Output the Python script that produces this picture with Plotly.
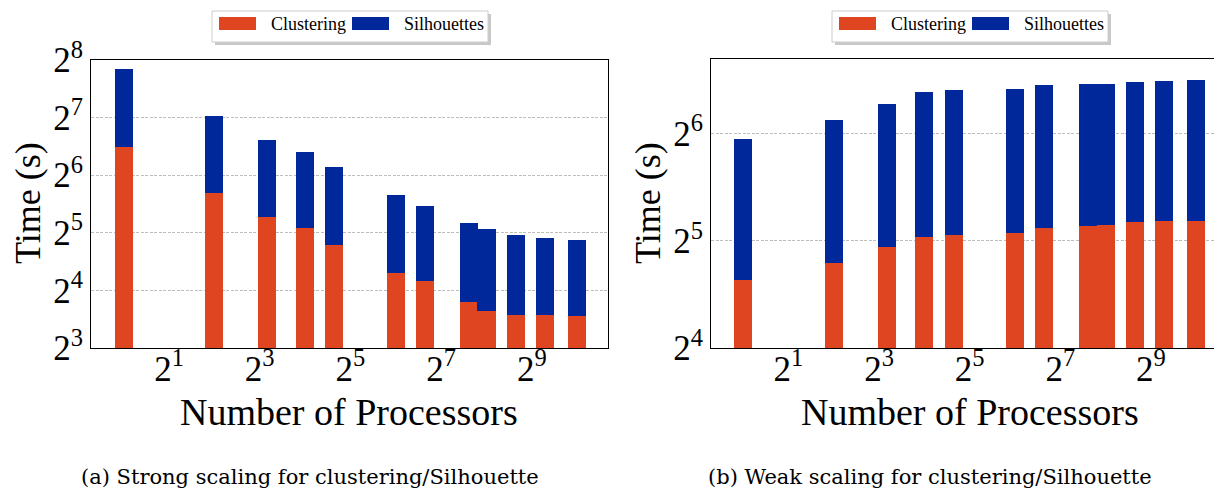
import numpy as np
import plotly.graph_objects as go

# processor counts (perfect squares), bars placed at log2(p)
processors = [1, 4, 9, 16, 25, 64, 100, 196, 256, 400, 625, 1024]

# (a) strong scaling, seconds
strong_clustering = [90, 51.6, 38.6, 33.8, 27.6, 19.7, 17.9, 13.9, 12.5, 11.9, 11.9, 11.8]
strong_silhouettes = [139, 78.4, 59.1, 50.6, 42.9, 30.9, 26.4, 22.1, 21.1, 19.2, 18.1, 17.5]

# (b) weak scaling, seconds
weak_clustering = [24.9, 27.7, 30.8, 32.8, 33.3, 33.7, 34.8, 35.3, 35.5, 36.2, 36.4, 36.4]
weak_silhouettes = [37.0, 42.4, 46.9, 51.2, 51.8, 52.0, 53.1, 53.2, 53.0, 53.4, 53.8, 54.4]

series_names = ["Clustering", "Silhouettes"]
series_colors = ["#E04521", "#00289A"]
x_tick_exps = [1, 3, 5, 7, 9]
strong_y_exps = [3, 4, 5, 6, 7, 8]
weak_y_exps = [4, 5, 6]
captions = ["(a) Strong scaling for clustering/Silhouette",
            "(b) Weak scaling for clustering/Silhouette"]

W, H = 1222, 491
PAGE = 8  # body margin of the html page
SERIF = "Liberation Serif"


def px(x):
    return (x - PAGE) / W


def py(y):
    return 1 - (y - PAGE) / H


def pow2_labels(exps):
    return [f"2<sup>{e}</sup>" for e in exps]


fig = go.Figure()
x_log = np.log2(processors)

panels = [(strong_clustering, strong_silhouettes, "x", "y"),
          (weak_clustering, weak_silhouettes, "x2", "y2")]
for clu, sil, xa, ya in panels:
    for name, vals, color in zip(series_names, [clu, sil], series_colors):
        fig.add_trace(go.Bar(x=x_log, y=vals, name=name, width=0.4,
                             marker=dict(color=color, line=dict(width=0)),
                             xaxis=xa, yaxis=ya, showlegend=False))

tickfont = dict(family=SERIF, size=35, color="black")
common_x = dict(showgrid=False, zeroline=False, ticks="", showline=True, linecolor="black",
                linewidth=1, mirror=True, tickvals=x_tick_exps, ticktext=pow2_labels(x_tick_exps),
                tickfont=tickfont, automargin=False, ticklabelstandoff=-10)
common_y = dict(type="log", showgrid=True, gridcolor="#bdbdbd", griddash="3px,1.5px", gridwidth=1,
                zeroline=False, ticks="", showline=True, linecolor="black", linewidth=1,
                tickfont=tickfont, automargin=False)

fig.update_layout(
    width=W, height=H,
    margin=dict(l=0, r=0, t=0, b=0),
    plot_bgcolor="white", paper_bgcolor="white",
    barmode="stack", bargap=0,
    xaxis=dict(common_x, domain=[px(91), px(608)], range=[-0.72, 10.68], anchor="y"),
    yaxis=dict(common_y, domain=[py(348), py(60)], anchor="x", mirror=True,
               range=[np.log10(8), np.log10(256)],
               tickvals=[2 ** e for e in strong_y_exps], ticktext=pow2_labels(strong_y_exps)),
    xaxis2=dict(common_x, domain=[px(711), px(1228)], range=[-0.71, 10.70], anchor="y2"),
    yaxis2=dict(common_y, domain=[py(348), py(59)], anchor="x2",
                range=[np.log10(16), np.log10(2 ** 6.7)],
                tickvals=[2 ** e for e in weak_y_exps], ticktext=pow2_labels(weak_y_exps)),
)

# axis titles and captions
title_font = dict(family=SERIF, size=38, color="black")
for cx, ycx in [(349, 28), (970, 648)]:
    fig.add_annotation(x=px(cx), y=py(412), xref="paper", yref="paper", text="Number of Processors",
                       showarrow=False, font=title_font, xanchor="center", yanchor="middle")
    fig.add_annotation(x=px(ycx), y=py(203), xref="paper", yref="paper", text="Time (s)",
                       showarrow=False, font=dict(title_font, size=36), textangle=-90,
                       xanchor="center", yanchor="middle")
for cx, cap in zip([310, 930], captions):
    fig.add_annotation(x=px(cx), y=py(477), xref="paper", yref="paper", text=cap, showarrow=False,
                       font=dict(family="DejaVu Serif", size=21, color="black"),
                       xanchor="center", yanchor="middle")

# legend boxes drawn above each panel
for x0 in [212, 832]:
    fig.add_shape(type="rect", xref="paper", yref="paper", x0=px(x0 + 3), x1=px(x0 + 279),
                  y0=py(45), y1=py(14), fillcolor="#c8c8c8", line=dict(width=0), layer="above")
    fig.add_shape(type="rect", xref="paper", yref="paper", x0=px(x0), x1=px(x0 + 276),
                  y0=py(42), y1=py(11), fillcolor="white", line=dict(color="#cccccc", width=1),
                  layer="above")
    for (sx, tx), name, color in zip([(7, 57), (140, 190)], series_names, series_colors):
        fig.add_shape(type="rect", xref="paper", yref="paper", x0=px(x0 + sx), x1=px(x0 + sx + 37),
                      y0=py(30), y1=py(17), fillcolor=color, line=dict(width=0), layer="above")
        fig.add_annotation(x=px(x0 + tx), y=py(24), xref="paper", yref="paper", text=name,
                           showarrow=False, font=dict(family=SERIF, size=18, color="black"),
                           xanchor="left", yanchor="middle")

fig.write_html("out.html")
